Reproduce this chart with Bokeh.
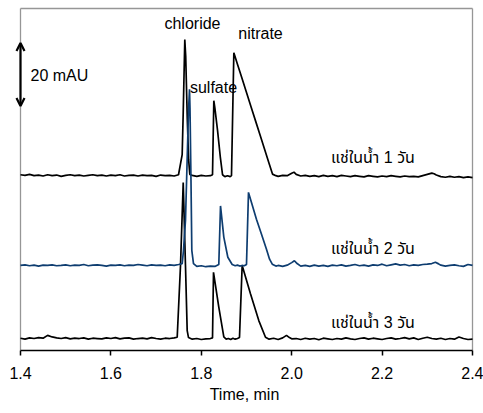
from bokeh.plotting import figure
from bokeh.models import Range1d, FixedTicker, PrintfTickFormatter, Label, Arrow, OpenHead
from bokeh.embed import file_html
from bokeh.resources import INLINE

# ---- data (time in min, signal in mAU above each trace's own baseline) ----
t1 = [1.40, 1.41, 1.42, 1.43, 1.44, 1.45, 1.46, 1.47, 1.48, 1.49,
      1.50, 1.51, 1.52, 1.53, 1.54, 1.55, 1.56, 1.57, 1.58, 1.59,
      1.60, 1.61, 1.62, 1.63, 1.64, 1.65, 1.66, 1.67, 1.68, 1.69,
      1.70, 1.71, 1.72, 1.73, 1.74, 1.7496, 1.7577, 1.7600, 1.7635, 1.7655,
      1.7690, 1.7720, 1.7746, 1.78, 1.79, 1.80, 1.81, 1.82, 1.8248, 1.8277,
      1.8300, 1.8360, 1.8420, 1.8470, 1.852, 1.858, 1.864, 1.8668, 1.8720, 1.88,
      1.89, 1.90, 1.91, 1.92, 1.93, 1.94, 1.95, 1.9575, 1.965, 1.97,
      1.98, 1.99, 2.00, 2.005, 2.01, 2.02, 2.03, 2.04, 2.05, 2.06,
      2.07, 2.08, 2.09, 2.10, 2.11, 2.12, 2.13, 2.14, 2.15, 2.16,
      2.17, 2.18, 2.19, 2.20, 2.21, 2.22, 2.23, 2.24, 2.25, 2.26,
      2.27, 2.28, 2.29, 2.30, 2.31, 2.315, 2.32, 2.33, 2.34, 2.35,
      2.36, 2.37, 2.38, 2.39, 2.40]
y1 = [0.3, 0.1, 0.4, 0.0, 0.2, -0.1, 0.3, 0.0, 0.2, -0.2,
      0.1, 0.3, 0.0, 0.2, -0.1, 0.1, 0.3, 0.0, 0.2, -0.1,
      0.2, 0.0, 0.3, -0.1, 0.1, 0.2, -0.1, 0.2, 0.0, 0.1,
      -0.2, 0.2, 0.0, 0.1, -0.1, 0.3, 6.7, 20.0, 43.2, 38.0,
      18.0, 5.0, 0.4, 0.1, -0.2, 0.1, -0.1, 0.0, 0.3, 23.8,
      21.5, 14.3, 6.0, 0.3, -0.3, 0.0, -0.3, 0.0, 39.0, 35.4,
      30.9, 26.4, 21.9, 17.4, 12.9, 8.4, 3.9, 0.5, 0.0, -0.2,
      0.1, 0.0, 0.8, 1.1, 0.4, -0.1, 0.1, -0.2, 0.0, -0.3,
      0.1, -0.2, 0.0, -0.3, 0.1, -0.1, -0.3, 0.0, -0.2, -0.4,
      0.0, -0.2, -0.4, -0.1, -0.3, 0.0, -0.2, -0.4, -0.1, -0.3,
      -0.2, -0.4, 0.0, 0.4, 0.8, 0.6, 0.2, -0.3, -0.5, -0.2,
      -0.5, -0.3, -0.6, -0.4, -0.6]

t2 = [1.40, 1.41, 1.42, 1.43, 1.44, 1.45, 1.46, 1.47, 1.48, 1.49,
      1.50, 1.51, 1.52, 1.53, 1.54, 1.55, 1.56, 1.57, 1.58, 1.59,
      1.60, 1.61, 1.62, 1.63, 1.64, 1.65, 1.66, 1.67, 1.68, 1.69,
      1.70, 1.71, 1.72, 1.73, 1.74, 1.75, 1.7577, 1.7606, 1.7650, 1.7717,
      1.7739, 1.7750, 1.7772, 1.7790, 1.7827, 1.79, 1.80, 1.81, 1.82, 1.83,
      1.8387, 1.8425, 1.8498, 1.8587, 1.8683, 1.875, 1.88, 1.885, 1.89, 1.895,
      1.9000, 1.9044, 1.912, 1.922, 1.933, 1.944, 1.951, 1.957, 1.965, 1.97,
      1.98, 1.99, 2.00, 2.006, 2.012, 2.02, 2.03, 2.04, 2.05, 2.06,
      2.07, 2.08, 2.09, 2.10, 2.11, 2.12, 2.13, 2.14, 2.15, 2.16,
      2.17, 2.18, 2.19, 2.20, 2.21, 2.22, 2.23, 2.24, 2.25, 2.26,
      2.27, 2.28, 2.29, 2.30, 2.31, 2.318, 2.325, 2.33, 2.34, 2.35,
      2.36, 2.37, 2.38, 2.39, 2.40]
y2 = [0.0, 0.2, -0.1, 0.1, -0.2, 0.1, 0.0, 0.2, -0.1, 0.0,
      0.2, -0.1, 0.1, 0.0, 0.3, -0.1, 0.1, 0.2, 0.0, -0.2,
      0.1, 0.0, 0.2, -0.1, 0.1, 0.0, 0.3, 0.1, -0.1, 0.2,
      0.0, 0.1, -0.1, 0.2, 0.0, 0.3, 0.6, 4.8, 14.3, 49.0,
      55.9, 50.0, 27.0, 4.8, 0.6, -0.3, -0.1, -0.4, -0.2, -0.3,
      0.3, 18.9, 9.0, 2.6, 0.3, -0.1, 0.1, -0.2, 0.0, -0.1,
      0.3, 23.2, 19.5, 14.7, 10.0, 5.2, 2.0, 0.4, -0.2, 0.0,
      -0.3, 0.1, 0.9, 1.5, 0.6, -0.2, 0.0, -0.3, 0.1, -0.2,
      0.0, -0.3, 0.1, -0.1, 0.2, -0.2, 0.0, 0.3, -0.1, 0.1,
      -0.2, 0.2, 0.0, 0.4, -0.1, 0.2, 0.5, 0.1, 0.3, -0.1,
      0.2, 0.0, 0.3, 0.4, 0.6, 1.0, 0.5, 0.1, -0.2, 0.0,
      0.2, -0.1, -0.3, 0.3, 0.0]

t3 = [1.40, 1.41, 1.42, 1.43, 1.44, 1.45, 1.46, 1.47, 1.48, 1.49,
      1.50, 1.51, 1.52, 1.53, 1.54, 1.55, 1.56, 1.57, 1.58, 1.59,
      1.60, 1.61, 1.62, 1.63, 1.64, 1.65, 1.66, 1.67, 1.68, 1.69,
      1.70, 1.71, 1.72, 1.73, 1.74, 1.7467, 1.7540, 1.7600, 1.7650, 1.7688,
      1.7717, 1.78, 1.79, 1.80, 1.81, 1.82, 1.8248, 1.8270, 1.8387, 1.8498,
      1.855, 1.86, 1.865, 1.87, 1.875, 1.88, 1.8845, 1.8904, 1.9088, 1.9272,
      1.942, 1.95, 1.96, 1.97, 1.98, 1.9885, 1.995, 2.00, 2.01, 2.02,
      2.03, 2.04, 2.05, 2.06, 2.07, 2.08, 2.09, 2.10, 2.11, 2.12,
      2.13, 2.14, 2.15, 2.16, 2.17, 2.18, 2.19, 2.20, 2.21, 2.22,
      2.23, 2.24, 2.25, 2.26, 2.27, 2.28, 2.29, 2.30, 2.31, 2.32,
      2.33, 2.34, 2.35, 2.36, 2.37, 2.38, 2.39, 2.40]
y3 = [0.1, -0.2, 0.2, 0.0, 0.3, 0.1, 1.0, 0.5, 0.2, 0.0,
      0.3, -0.1, 0.1, 0.0, 0.2, -0.2, 0.1, 0.0, -0.1, 0.2,
      0.0, 0.3, -0.1, 0.1, 0.2, -0.2, 0.0, 0.1, -0.1, 0.3,
      0.0, -0.2, 0.1, 0.0, 0.2, 0.4, 23.2, 49.5, 23.2, 2.5,
      0.3, -0.2, 0.0, -0.3, -0.1, 0.0, 0.2, 21.0, 10.0, 0.5,
      -0.2, 0.0, -0.3, 0.1, -0.2, 0.0, 0.3, 23.2, 14.2, 5.7,
      0.4, -0.2, 0.1, -0.3, 0.2, 1.0, 0.3, -0.1, 0.0, -0.3,
      0.1, -0.2, 0.0, -0.4, 0.1, -0.1, -0.3, 0.0, -0.2, 0.2,
      -0.1, -0.3, 0.0, 0.2, -0.2, 0.1, -0.1, -0.3, 0.0, 0.2,
      -0.2, 0.0, 0.3, -0.1, 0.2, -0.3, 0.1, 0.4, 0.0, -0.2,
      0.1, -0.3, 0.0, -0.2, 0.5, 0.0, -0.3, -0.2]

offsets = [55.5, 27.0, 3.8]          # vertical stacking offsets (mAU)
series_labels = ["แช่ในน้ำ 1 วัน", "แช่ในน้ำ 2 วัน", "แช่ในน้ำ 3 วัน"]
series_colors = ["#000000", "#0E3D70", "#000000"]
peak_names = ["chloride", "sulfate", "nitrate"]
x_ticks = [1.4, 1.6, 1.8, 2.0, 2.2, 2.4]
scale_bar = 20  # mAU

X0, X1 = 1.4, 2.4        # plotted time window
Y_TOP = 108.57           # top of the box, mAU
FONT = "Liberation Sans"

# frame slightly wider than the box so the scale arrow at t=1.4 is not clipped
p = figure(width=483, height=413, output_backend="svg", toolbar_location=None,
           x_range=Range1d(1.38673, 2.40442), y_range=Range1d(0, 109.21),
           y_axis_location=None, min_border_left=14, min_border_right=9,
           min_border_top=6, min_border_bottom=63)
p.grid.visible = False
p.outline_line_color = None
p.background_fill_color = "white"
p.border_fill_color = "white"

ax = p.xaxis[0]
ax.bounds = (X0, X1)
ax.ticker = FixedTicker(ticks=x_ticks)
ax.formatter = PrintfTickFormatter(format="%.1f")
ax.axis_line_color = "black"
ax.axis_line_width = 1.5
ax.major_tick_line_color = "black"
ax.major_tick_line_width = 1.5
ax.major_tick_in = 0
ax.major_tick_out = 5
ax.minor_tick_line_color = None
ax.major_label_text_font = FONT
ax.major_label_text_font_size = "16px"
ax.major_label_text_color = "black"
ax.major_label_standoff = 11
ax.axis_label = "Time, min"
ax.axis_label_text_font = FONT
ax.axis_label_text_font_size = "16px"
ax.axis_label_text_font_style = "normal"
ax.axis_label_text_color = "black"
ax.axis_label_standoff = 4

# box border (left, top, right)
p.segment(x0=[X0, X0, X1], y0=[0, Y_TOP, Y_TOP], x1=[X0, X1, X1], y1=[Y_TOP, Y_TOP, 0],
          line_color="#969696", line_width=1.3)

traces = [(t3, y3, offsets[2], series_colors[2]),
          (t1, y1, offsets[0], series_colors[0]),
          (t2, y2, offsets[1], series_colors[1])]
for t, y, off, col in traces:
    p.line(t, [v + off for v in y], line_color=col, line_width=1.7)

def lab(x, y, text, align="center", font=FONT):
    p.add_layout(Label(x=x, y=y, text=text, text_font=font,
                       text_font_size="16px", text_color="black",
                       text_align=align, text_baseline="middle"))

lab(1.7805, 103.8, peak_names[0])
lab(1.827, 83.5, peak_names[1])
lab(1.931, 100.6, peak_names[2])
lab(1.4221, 87.3, f"{scale_bar} mAU", align="left")
thai_font = "Liberation Sans, Noto Sans Thai, Loma, Garuda, sans-serif"
lab(2.087, 61.3, series_labels[0], align="left", font=thai_font)
lab(2.087, 32.4, series_labels[1], align="left", font=thai_font)
lab(2.087, 8.9, series_labels[2], align="left", font=thai_font)

p.add_layout(Arrow(x_start=X0, y_start=77.6, x_end=X0, y_end=77.6 + scale_bar,
                   line_color="black", line_width=2.2,
                   start=OpenHead(size=8, line_width=2.2, line_color="black"),
                   end=OpenHead(size=8, line_width=2.2, line_color="black")))

open("out.html", "w").write(file_html(p, INLINE))
